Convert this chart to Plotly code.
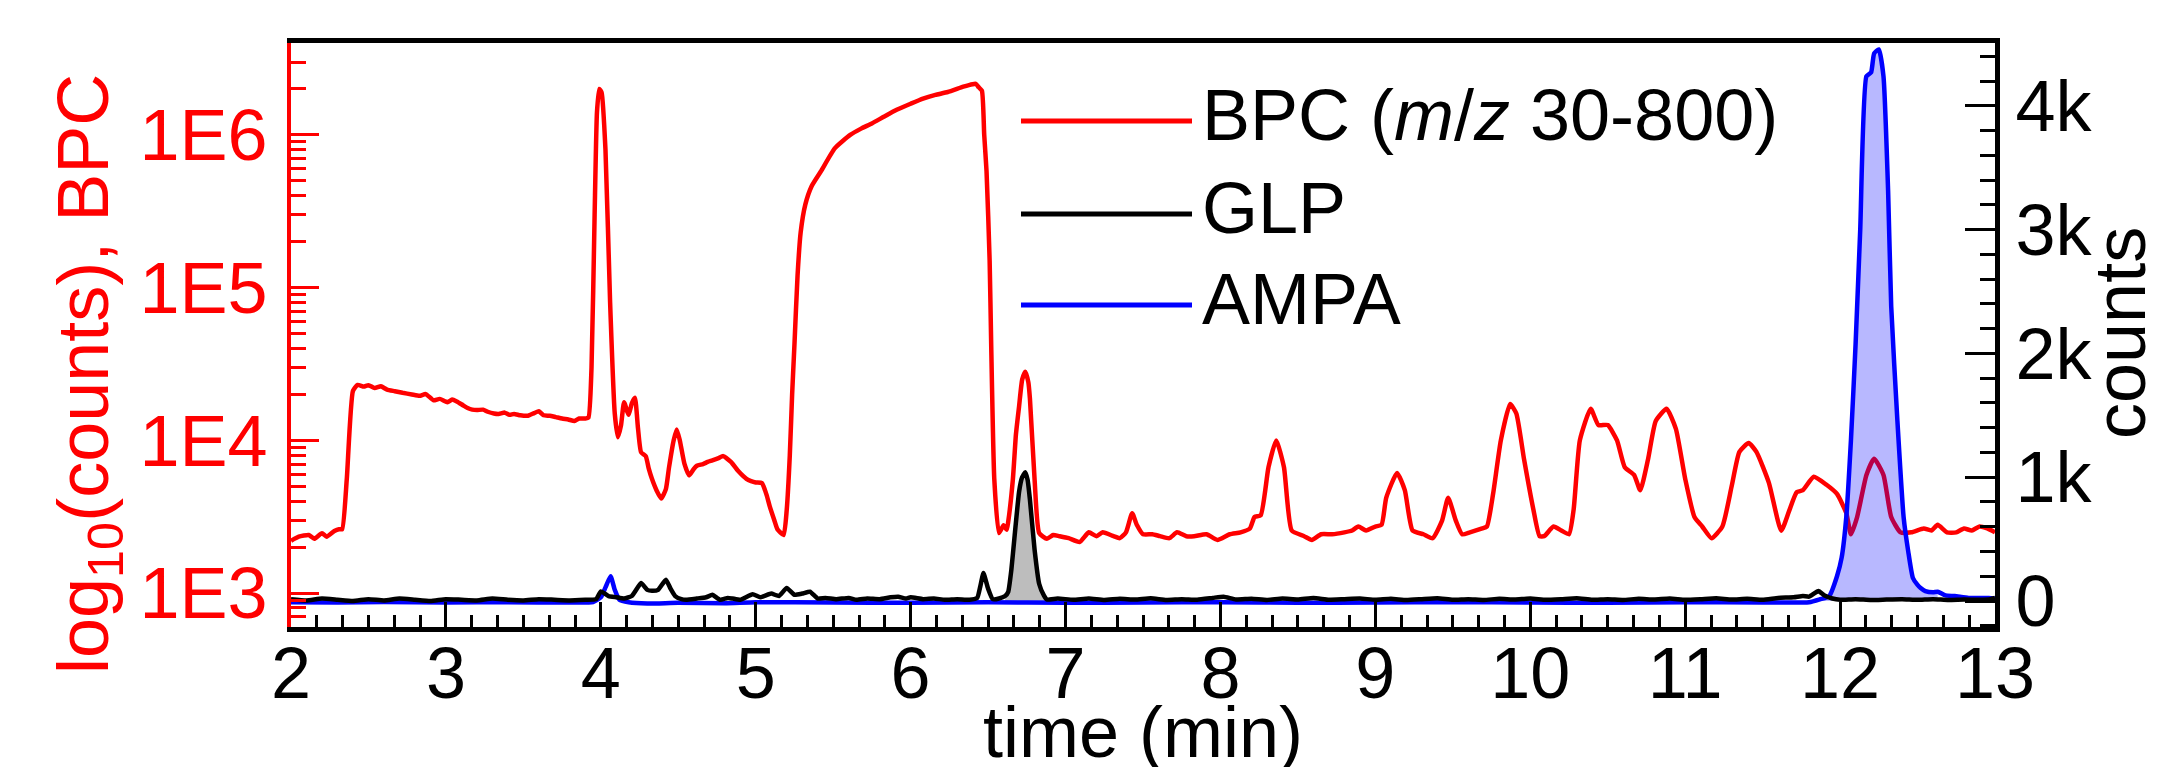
import math
import plotly.graph_objects as go

# ---------------- data ----------------
bpc_time = [2.00, 2.05, 2.115, 2.15, 2.20, 2.23, 2.28, 2.31, 2.33, 2.36, 2.40, 2.43,
            2.47, 2.50, 2.54, 2.58, 2.62, 2.67, 2.72, 2.78, 2.83, 2.87, 2.92, 2.96,
            3.01, 3.04, 3.07, 3.11, 3.14, 3.17, 3.20, 3.24, 3.27, 3.31, 3.34, 3.38,
            3.41, 3.44, 3.48, 3.53, 3.57, 3.60, 3.63, 3.67, 3.71, 3.75, 3.79, 3.83,
            3.86, 3.90, 3.92, 3.94, 3.96, 3.975, 3.99, 4.005, 4.03, 4.06, 4.09, 4.11,
            4.13, 4.15, 4.17, 4.18, 4.20, 4.22, 4.24, 4.26, 4.29, 4.31, 4.33, 4.36,
            4.39, 4.42, 4.44, 4.47, 4.49, 4.51, 4.54, 4.57, 4.60, 4.62, 4.66, 4.69,
            4.72, 4.76, 4.79, 4.84, 4.89, 4.94, 4.97, 5.00, 5.04, 5.07, 5.09, 5.12,
            5.14, 5.18, 5.20, 5.22, 5.235, 5.25, 5.27, 5.29, 5.32, 5.36, 5.42, 5.51, 5.61,
            5.68, 5.75, 5.83, 5.91, 6.00, 6.08, 6.16, 6.24, 6.34, 6.40, 6.42, 6.44,
            6.46, 6.475, 6.49, 6.51, 6.52, 6.54, 6.57, 6.60, 6.62, 6.63, 6.66, 6.68,
            6.70, 6.72, 6.74, 6.76, 6.77, 6.80, 6.83, 6.88, 6.92,
            6.96, 7.02, 7.09, 7.15, 7.20, 7.24, 7.31, 7.35, 7.39, 7.43, 7.46, 7.50,
            7.56, 7.61, 7.67, 7.72, 7.78, 7.83, 7.91, 7.98, 8.06, 8.13, 8.19, 8.22,
            8.26, 8.31, 8.36, 8.41, 8.46, 8.54, 8.59, 8.65, 8.72, 8.80, 8.85, 8.89,
            8.94, 9.00, 9.04, 9.07, 9.14, 9.19, 9.24, 9.31, 9.37, 9.43, 9.47, 9.52,
            9.56, 9.61, 9.69, 9.72, 9.76, 9.81, 9.87, 9.91, 9.96, 10.02, 10.06, 10.09,
            10.15, 10.20, 10.25, 10.28, 10.32, 10.39, 10.44, 10.50, 10.56, 10.61, 10.67, 10.71,
            10.76, 10.81, 10.88, 10.94, 11.00, 11.06, 11.11, 11.17, 11.24, 11.30, 11.35, 11.41,
            11.46, 11.54, 11.62, 11.67, 11.72, 11.76, 11.83, 11.91, 11.98, 12.04, 12.07, 12.11,
            12.17, 12.22, 12.28, 12.33, 12.39, 12.46, 12.54, 12.59, 12.63, 12.69, 12.75, 12.80,
            12.85, 12.90, 12.95, 13.00]
bpc_counts = [2200, 2340, 2400, 2270, 2470, 2340, 2550, 2620, 2620, 5570, 21100, 23100,
              22500, 23000, 22000, 22600, 21500, 21000, 20500, 20000, 19600, 20100, 18300, 18700,
              17800, 18500, 18000, 17000, 16300, 15900, 15800, 15900, 15400, 15000, 14900, 15200,
              14700, 14900, 14600, 14500, 15100, 15500, 14600, 14500, 14200, 13900, 13700, 13400,
              13900, 13900, 14100, 30000, 300000, 1400000, 2000000, 1900000, 800000, 80000, 15000, 10500,
              12500, 17800, 15500, 14700, 17500, 19000, 12000, 8360, 7890, 6500, 5600, 4700,
              4170, 4800, 6620, 10000, 11800, 10000, 7010, 5900, 6500, 6820, 7000, 7230,
              7400, 7660, 7890, 7230, 6250, 5600, 5410, 5300, 5250, 4400, 3710, 3000,
              2620, 2400, 3500, 8000, 20000, 42400, 120000, 230000, 350000, 460000, 576000, 817000, 1000000,
              1100000, 1190000, 1320000, 1460000, 1600000, 1730000, 1830000, 1910000, 2070000, 2150000, 2160000, 2050000,
              1950000, 1000000, 577000, 150000, 42400, 5570, 2470, 2780, 2600, 2940, 5570, 11000,
              16700, 25000, 28200, 24000, 18800, 5570, 2470, 2270, 2400,
              2360, 2290, 2160, 2500, 2360, 2500, 2360, 2290, 2500, 3340, 2800, 2430,
              2430, 2360, 2290, 2500, 2360, 2360, 2430, 2230, 2430, 2500, 2650, 3150,
              3240, 6670, 10000, 6670, 2570, 2360, 2230, 2430, 2430, 2500, 2570, 2730,
              2570, 2730, 2800, 4210, 6120, 4720, 2570, 2430, 2290, 2970, 4210, 2970,
              2430, 2500, 2650, 2730, 4460, 10000, 17300, 15000, 7500, 3530, 2360, 2360,
              2730, 2570, 2430, 3530, 10000, 16100, 12600, 12600, 10000, 6670, 5940, 4720,
              7500, 13400, 16100, 11900, 5610, 3150, 2730, 2290, 2730, 5000, 8410, 9610,
              8410, 5290, 2560, 3430, 4580, 4720, 5780, 5140, 4460, 3340, 2430, 3150,
              5940, 7590, 5940, 3150, 2500, 2500, 2650, 2570, 2800, 2500, 2500, 2650,
              2570, 2730, 2650, 2500]

glp_time = [2.00, 2.10, 2.20, 2.30, 2.40, 2.50, 2.60, 2.70, 2.80, 2.90, 3.00, 3.10,
            3.20, 3.30, 3.40, 3.50, 3.60, 3.70, 3.80, 3.90, 3.97, 4.00, 4.05, 4.10,
            4.15, 4.20, 4.26, 4.30, 4.33, 4.37, 4.42, 4.45, 4.48, 4.52, 4.55, 4.62,
            4.68, 4.72, 4.77, 4.82, 4.85, 4.90, 4.98, 5.03, 5.10, 5.15, 5.20, 5.25,
            5.30, 5.35, 5.40, 5.45, 5.52, 5.60, 5.65, 5.72, 5.80, 5.87, 5.92, 5.97,
            6.00, 6.08, 6.15, 6.22, 6.30, 6.38, 6.43, 6.45, 6.47, 6.50, 6.53, 6.57,
            6.61, 6.63, 6.65, 6.67, 6.70, 6.72, 6.74, 6.755, 6.77, 6.80, 6.83, 6.86,
            6.88, 6.95, 7.05, 7.15, 7.25, 7.35, 7.45, 7.55, 7.65, 7.75, 7.85, 7.95,
            8.02, 8.10, 8.20, 8.30, 8.40, 8.50, 8.60, 8.70, 8.80, 8.90, 9.00, 9.10,
            9.20, 9.30, 9.40, 9.50, 9.60, 9.70, 9.80, 9.90, 10.00, 10.10, 10.20, 10.30,
            10.40, 10.50, 10.60, 10.70, 10.80, 10.90, 11.00, 11.10, 11.20, 11.30, 11.40, 11.50,
            11.60, 11.70, 11.76, 11.80, 11.86, 11.90, 11.95, 12.00, 12.10, 12.20, 12.30, 12.40,
            12.50, 12.60, 12.70, 12.80, 12.90, 12.97, 13.00]
glp_counts = [15, 5, 20, 10, 0, 15, 5, 20, 10, 0, 15, 10,
              5, 20, 10, 5, 15, 10, 5, 10, 15, 78, 40, 30,
              20, 40, 145, 90, 83, 90, 172, 100, 40, 15, 10, 20,
              30, 50, 10, 25, 20, 10, 55, 30, 60, 40, 105, 50,
              60, 75, 20, 25, 15, 25, 10, 20, 15, 30, 35, 20,
              30, 15, 20, 10, 15, 10, 25, 120, 226, 100, 15, 20,
              40, 74, 250, 509, 882, 1000, 1040, 980, 820, 416, 137, 45,
              12, 20, 10, 20, 8, 18, 12, 22, 8, 15, 10, 25,
              35, 12, 18, 8, 20, 12, 25, 10, 15, 20, 10, 18,
              8, 15, 22, 10, 15, 8, 18, 12, 20, 10, 15, 22,
              10, 15, 8, 18, 12, 20, 10, 15, 22, 12, 18, 10,
              25, 30, 40, 35, 80, 45, 20, 10, 15, 8, 12, 15,
              10, 15, 8, 12, 10, 15, 25]

ampa_time = [2.00, 2.30, 2.60, 3.00, 3.40, 3.80, 3.95, 4.00, 4.03, 4.063, 4.09, 4.12,
             4.18, 4.30, 4.50, 4.80, 5.00, 5.50, 6.00, 6.50, 7.00, 7.50, 8.00, 8.50,
             9.00, 9.50, 10.00, 10.50, 11.00, 11.50, 11.80, 11.87, 11.93, 11.98, 12.01, 12.04,
             12.07, 12.10, 12.13, 12.17, 12.20, 12.22, 12.25, 12.28, 12.31, 12.33, 12.37, 12.41,
             12.44, 12.47, 12.50, 12.52, 12.55, 12.60, 12.63, 12.68, 12.74, 12.83, 12.96, 13.00]
ampa_counts = [-10, -12, -8, -12, -10, -12, -8, 30, 110, 200, 90, 10,
               -10, -20, -15, -18, -10, -12, -15, -10, -15, -12, -10, -14,
               -12, -10, -12, -14, -10, -12, -10, 14, 40, 200, 350, 679,
               1298, 2072, 3000, 4238, 4269, 4424, 4455, 4238, 3312, 2380, 1454, 679,
               400, 186, 130, 105, 80, 70, 75, 45, 40, 25, 25, 20]

x_ticks = [2, 3, 4, 5, 6, 7, 8, 9, 10, 11, 12, 13]
left_ticks = [1e3, 1e4, 1e5, 1e6]
left_ticktext = ["1E3", "1E4", "1E5", "1E6"]
left_minor = [600, 700, 800, 900,
              2e3, 3e3, 4e3, 5e3, 6e3, 7e3, 8e3, 9e3,
              2e4, 3e4, 4e4, 5e4, 6e4, 7e4, 8e4, 9e4,
              2e5, 3e5, 4e5, 5e5, 6e5, 7e5, 8e5, 9e5,
              2e6, 3e6, 4e6]
right_ticks = [0, 1000, 2000, 3000, 4000]
right_ticktext = ["0", "1k", "2k", "3k", "4k"]

FONT = "Liberation Sans, Arial, sans-serif"
FS = 72
LW = 4.5

fig = go.Figure()

# BPC on the log axis
fig.add_trace(go.Scatter(x=bpc_time, y=bpc_counts, mode="lines",
                         line=dict(color="#ff0000", width=LW, shape="spline", smoothing=0.5),
                         yaxis="y", name="BPC"))

# filled peaks (subsets of the series)
ampa_pk = [(t, c) for t, c in zip(ampa_time, ampa_counts) if 11.85 <= t <= 12.65]
fig.add_trace(go.Scatter(x=[p[0] for p in ampa_pk], y=[p[1] for p in ampa_pk], mode="lines",
                         line=dict(width=0, shape="spline", smoothing=0.5), fill="tozeroy",
                         fillcolor="rgba(0,0,255,0.28)", yaxis="y2", hoverinfo="skip"))
glp_pk = [(t, c) for t, c in zip(glp_time, glp_counts) if 6.60 <= t <= 6.89]
fig.add_trace(go.Scatter(x=[p[0] for p in glp_pk], y=[p[1] for p in glp_pk], mode="lines",
                         line=dict(width=0, shape="spline", smoothing=0.5), fill="tozeroy",
                         fillcolor="#bdbdbd", yaxis="y2", hoverinfo="skip"))

fig.add_trace(go.Scatter(x=ampa_time, y=ampa_counts, mode="lines",
                         line=dict(color="#0000ff", width=LW, shape="spline", smoothing=0.5),
                         yaxis="y2", name="AMPA"))
fig.add_trace(go.Scatter(x=glp_time, y=glp_counts, mode="lines",
                         line=dict(color="#000000", width=LW, shape="spline", smoothing=0.4),
                         yaxis="y2", name="GLP"))

# plot area in pixels: x 283..1987, y 35..619
L, R, T, B = 283, 1987, 35, 619
def px(x):
    return (x - L) / (R - L)
def py(y):
    return (B - y) / (B - T)

# custom legend
legend_items = [("BPC (<i>m</i>/<i>z</i> 30-800)", "#ff0000", 113),
                ("GLP", "#000000", 206),
                ("AMPA", "#0000ff", 297)]
shapes = []
annotations = []
for label, col, yy in legend_items:
    shapes.append(dict(type="line", xref="paper", yref="paper",
                       x0=px(1013), x1=px(1184), y0=py(yy), y1=py(yy),
                       line=dict(color=col, width=5)))
    annotations.append(dict(text=label, xref="paper", yref="paper", x=px(1192), y=py(yy - 6),
                            xanchor="left", yanchor="middle", showarrow=False,
                            font=dict(family=FONT, size=FS, color="black")))

# axis titles
annotations.append(dict(text="log<sub>10</sub>(counts), BPC", xref="paper", yref="paper",
                        x=px(80), y=py(366), textangle=-90, xanchor="center", yanchor="middle",
                        showarrow=False, font=dict(family=FONT, size=FS, color="#ff0000")))
annotations.append(dict(text="counts", xref="paper", yref="paper",
                        x=px(2112), y=py(325), textangle=-90, xanchor="center", yanchor="middle",
                        showarrow=False, font=dict(family=FONT, size=FS, color="black")))
annotations.append(dict(text="time (min)", xref="paper", yref="paper",
                        x=0.5, y=py(724), xanchor="center", yanchor="middle",
                        showarrow=False, font=dict(family=FONT, size=FS, color="black")))

fig.update_layout(
    width=2163, height=767,
    margin=dict(l=L, r=2163 - R, t=T, b=767 - B),
    plot_bgcolor="white", paper_bgcolor="white",
    showlegend=False,
    font=dict(family=FONT, size=FS, color="black"),
    shapes=shapes, annotations=annotations,
    xaxis=dict(range=[2, 13], tickmode="array", tickvals=x_ticks,
               ticks="inside", ticklen=25, tickwidth=3, tickcolor="black",
               showline=True, linecolor="black", linewidth=5, mirror=True,
               showgrid=False, zeroline=False, ticklabelstandoff=-20,
               tickfont=dict(family=FONT, size=FS, color="black"),
               minor=dict(ticks="inside", tick0=2, dtick=1 / 6, ticklen=12, tickwidth=3,
                          tickcolor="black", showgrid=False)),
    yaxis=dict(type="log", range=[math.log10(600), math.log10(4e6)],
               tickmode="array", tickvals=left_ticks, ticktext=left_ticktext,
               ticks="inside", ticklen=28, tickwidth=3, tickcolor="#ff0000",
               showline=True, linecolor="#ff0000", linewidth=4,
               showgrid=False, zeroline=False, ticklabelstandoff=5,
               tickfont=dict(family=FONT, size=FS, color="#ff0000"),
               minor=dict(ticks="inside", tickmode="array", tickvals=left_minor, ticklen=15,
                          tickwidth=3, tickcolor="#ff0000", showgrid=False)),
    yaxis2=dict(overlaying="y", side="right", range=[-210, 4507],
                tickmode="array", tickvals=right_ticks, ticktext=right_ticktext,
                ticks="inside", ticklen=30, tickwidth=3, tickcolor="black",
                showline=True, linecolor="black", linewidth=5,
                showgrid=False, zeroline=False, ticklabelstandoff=1,
                tickfont=dict(family=FONT, size=FS, color="black"),
                minor=dict(ticks="inside", tick0=0, dtick=200, ticklen=15, tickwidth=3,
                           tickcolor="black", showgrid=False)),
)

fig.write_html("out.html")
